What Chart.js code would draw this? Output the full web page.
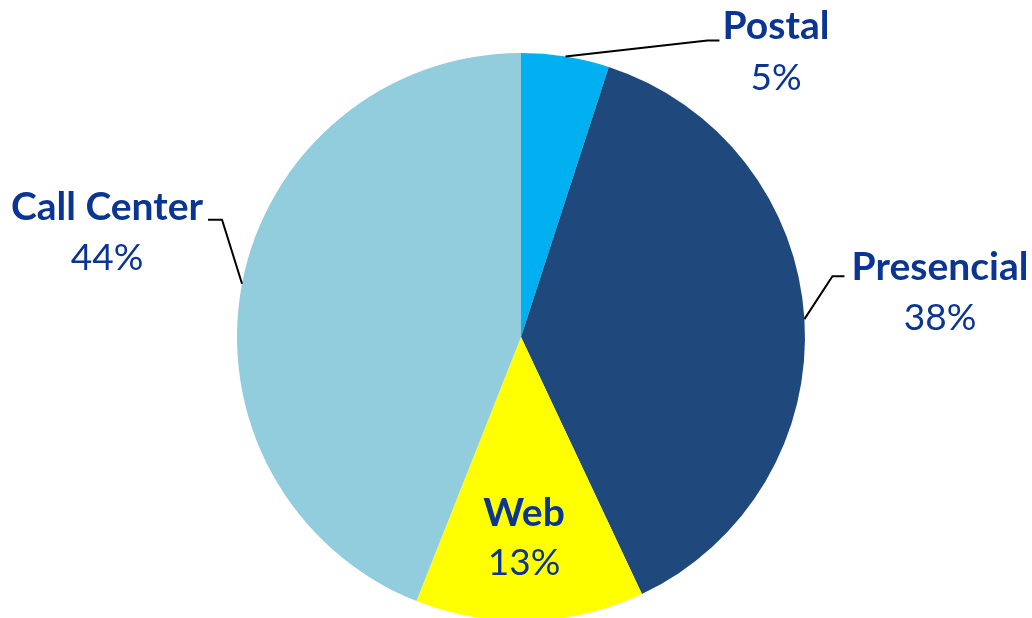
<!DOCTYPE html>
<html>
<head>
<meta charset="utf-8">
<script src="https://cdn.jsdelivr.net/npm/chart.js"></script>
<style>
  html, body { margin: 0; padding: 0; background: #fff; }
  #wrap { width: 1032px; height: 618px; }
</style>
</head>
<body>
<div id="wrap"><canvas id="pieChart"></canvas></div>
<script>
    const channels = ['Postal', 'Presencial', 'Web', 'Call Center'];
    const shares = [5, 38, 13, 44];
    const sliceColors = ['#00B0F0', '#1F497D', '#FFFF00', '#92CDDD'];

    // where each label sits: leader elbow offset from slice edge, text centre
    const labelLayout = [
        { elbow: [142, -16], end: 12, text: [776, 26, 78] },
        { elbow: [28, -43], end: 12, text: [940, 267, 318] },
        { inside: true, text: [524, 513, 563] },
        { elbow: [-20, -64], end: -14, text: [107, 207, 258] }
    ];

    const labelColor = '#0B3592';
    const fontFamily = 'Lato, "Open Sans", sans-serif';

    const pieLabels = {
        id: 'pieLabels',
        afterDatasetsDraw(chart) {
            const ctx = chart.ctx;
            const arcs = chart.getDatasetMeta(0).data;
            ctx.save();
            arcs.forEach((arc, i) => {
                const lay = labelLayout[i];
                const p = arc.getProps(['x', 'y', 'startAngle', 'endAngle', 'outerRadius'], true);
                if (!lay.inside) {
                    const mid = (p.startAngle + p.endAngle) / 2;
                    const sx = p.x + Math.cos(mid) * p.outerRadius;
                    const sy = p.y + Math.sin(mid) * p.outerRadius;
                    const ex = sx + lay.elbow[0], ey = sy + lay.elbow[1];
                    ctx.beginPath();
                    ctx.moveTo(sx, sy);
                    ctx.lineTo(ex, ey);
                    ctx.lineTo(ex + lay.end, ey);
                    ctx.strokeStyle = '#000';
                    ctx.lineWidth = 2;
                    ctx.stroke();
                }
                ctx.fillStyle = labelColor;
                ctx.textAlign = 'center';
                ctx.textBaseline = 'middle';
                ctx.font = 'bold 39px ' + fontFamily;
                ctx.fillText(channels[i], lay.text[0], lay.text[1]);
                ctx.font = '37px ' + fontFamily;
                ctx.fillText(shares[i] + '%', lay.text[0], lay.text[2]);
            });
            ctx.restore();
        }
    };

    const ctx = document.getElementById('pieChart').getContext('2d');
    const myChart = new Chart(ctx, {
        type: 'pie',
        data: {
            labels: channels,
            datasets: [{
                data: shares,
                backgroundColor: sliceColors,
                borderWidth: 0
            }]
        },
        options: {
            responsive: true,
            maintainAspectRatio: false,
            animation: false,
            radius: 284,
            layout: { padding: { left: 10, right: 0, top: 56, bottom: 0 } },
            plugins: {
                legend: { display: false },
                tooltip: { enabled: false }
            },
            events: []
        },
        plugins: [pieLabels]
    });
</script>
</body>
</html>
